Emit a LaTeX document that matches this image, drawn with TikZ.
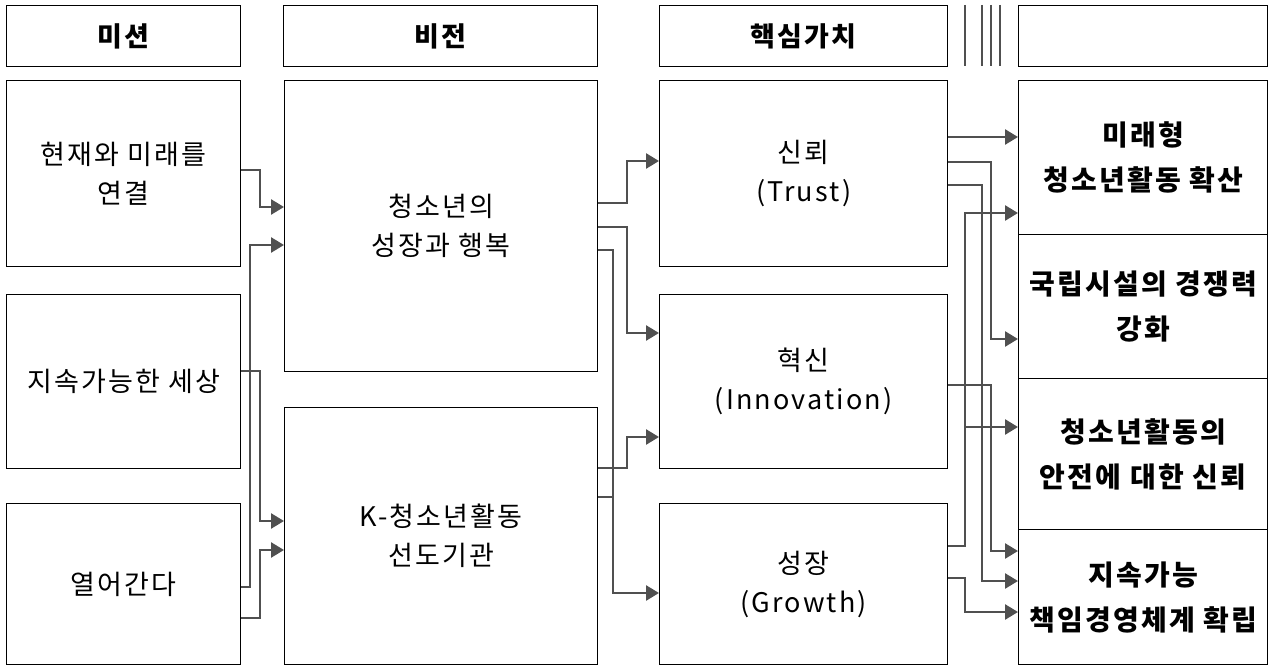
\documentclass[tikz,border=0pt]{standalone}
\usepackage{fontspec}
\newfontfamily\kr{Noto Sans CJK KR}
\newfontfamily\krs[LetterSpace=8]{Noto Sans CJK KR}
\usetikzlibrary{arrows.meta}
\definecolor{linegray}{HTML}{505050}
\begin{document}
\begin{tikzpicture}[x=1pt,y=-1pt,
  box/.style={draw=black, line width=1.3pt, anchor=north west, inner sep=0pt, align=center, font=\krs\fontsize{27}{39}\selectfont},
  hbox/.style={box, font=\krs\bfseries\fontsize{27}{30}\selectfont},
  rbox/.style={box, font=\krs\bfseries\fontsize{28}{45}\selectfont},
  conn/.style={draw=linegray, line width=2.6pt, -{Triangle[length=13pt,width=15pt]}},
  link/.style={draw=linegray, line width=2.6pt},
  sep/.style={draw=linegray, line width=1.5pt},
]
\useasboundingbox (0,0) rectangle (1269,668);
% headers
\node[hbox, minimum width=234pt, minimum height=61pt] (h1) at (6,5) {미션};
\node[hbox, minimum width=314pt, minimum height=61pt] (h2) at (283,5) {비전};
\node[hbox, minimum width=288pt, minimum height=61pt] (h3) at (659,5) {핵심가치};
\node[hbox, minimum width=249pt, minimum height=61pt] (h4) at (1018,5) {};
\foreach \xx in {965,982,991,1000} \draw[sep] (\xx,5) -- (\xx,66);
% mission
\node[box, minimum width=234pt, minimum height=186pt] (m1) at (6,80) {현재와 미래를\\연결};
\node[box, minimum width=234pt, minimum height=174pt] (m2) at (6,294) {지속가능한 세상};
\node[box, minimum width=234pt, minimum height=161pt] (m3) at (6,503) {열어간다};
% vision
\node[box, minimum width=313pt, minimum height=291pt] (v1) at (284,80) {청소년의\\성장과 행복};
\node[box, minimum width=313pt, minimum height=257pt] (v2) at (284,407) {K-청소년활동\\선도기관};
% core values
\node[box, minimum width=288pt, minimum height=186pt] (c1) at (659,80) {신뢰\\(Trust)};
\node[box, minimum width=288pt, minimum height=174pt] (c2) at (659,294) {혁신\\(Innovation)};
\node[box, minimum width=288pt, minimum height=161pt] (c3) at (659,503) {성장\\(Growth)};
% results
\node[rbox, minimum width=249pt, minimum height=154pt] (r1) at (1018,80) {미래형\\청소년활동 확산};
\node[rbox, minimum width=249pt, minimum height=144pt] (r2) at (1018,234) {국립시설의 경쟁력\\강화};
\node[rbox, minimum width=249pt, minimum height=151pt] (r3) at (1018,378) {청소년활동의\\안전에 대한 신뢰};
\node[rbox, minimum width=249pt, minimum height=135pt] (r4) at (1018,529) {지속가능\\책임경영체계 확립};
% mission -> vision
\draw[conn] (m1.east |- 0,170) -| (260,207) -- (v1.west |- 0,207);
\draw[conn] (m3.east |- 0,587) -| (250,245) -- (v1.west |- 0,245);
\draw[conn] (m2.east |- 0,371) -| (260,521) -- (v2.west |- 0,521);
\draw[conn] (m3.east |- 0,618) -| (260,550) -- (v2.west |- 0,550);
% vision -> core values
\draw[conn] (v1.east |- 0,203) -| (627,161) -- (c1.west |- 0,161);
\draw[conn] (v1.east |- 0,227) -| (627,333) -- (c2.west |- 0,333);
\draw[conn] (v1.east |- 0,250) -| (613,593) -- (c3.west |- 0,593);
\draw[conn] (v2.east |- 0,468) -| (627,437) -- (c2.west |- 0,437);
\draw[link] (v2.east |- 0,497) -- (613,497);
% core values -> results
\draw[conn] (c1.east |- 0,137) -- (r1.west |- 0,137);
\draw[conn] (c1.east |- 0,162) -| (991,339) -- (r2.west |- 0,339);
\draw[conn] (c1.east |- 0,185) -| (982,581) -- (r4.west |- 0,581);
\draw[conn] (c3.east |- 0,546) -| (965,213) -- (r1.west |- 0,213);
\coordinate (br) at (965,427);
\draw[conn] (br) -- (r3.west |- br);
\draw[conn] (c2.east |- 0,385) -| (991,551) -- (r4.west |- 0,551);
\draw[conn] (c3.east |- 0,578) -| (965,612) -- (r4.west |- 0,612);
\end{tikzpicture}
\end{document}
